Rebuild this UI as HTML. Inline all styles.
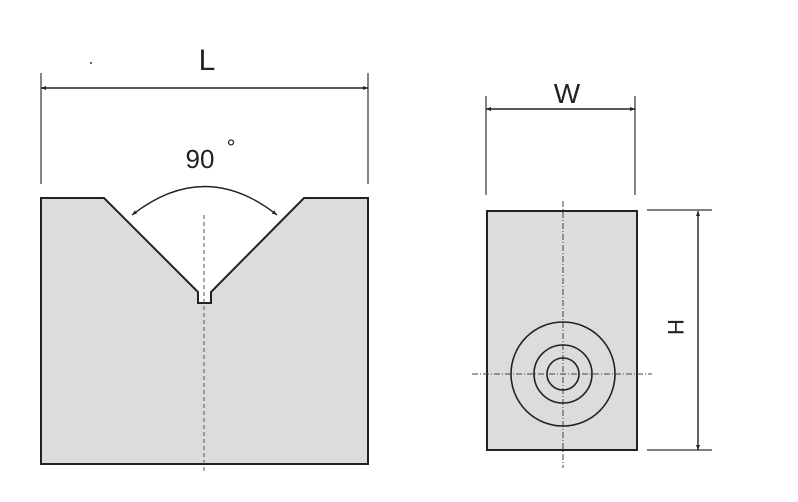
<!DOCTYPE html>
<html><head><meta charset="utf-8"><style>html,body{margin:0;padding:0;background:#fff;}svg{display:block}</style></head>
<body>
<svg width="798" height="502" viewBox="0 0 798 502" xmlns="http://www.w3.org/2000/svg">
<defs>
<marker id="a" viewBox="0 0 10 10" refX="10" refY="5" markerWidth="11" markerHeight="5" orient="auto-start-reverse" markerUnits="userSpaceOnUse"><path d="M0,1 L10,5 L0,9 z" fill="#222"/></marker>
</defs>
<g font-family="'Liberation Sans', Arial, sans-serif" fill="#222">
<path d="M41,198 L104,198 L198,292 L198,303 L211,303 L211,292 L304,198 L368,198 L368,464 L41,464 Z" fill="#dcdcdc" stroke="#222" stroke-width="2"/>
<line x1="204" y1="215" x2="204" y2="474" stroke="#555" stroke-width="1" stroke-dasharray="4,3"/>
<line x1="41" y1="73" x2="41" y2="184" stroke="#333" stroke-width="1.2"/>
<line x1="368" y1="73" x2="368" y2="184" stroke="#333" stroke-width="1.2"/>
<line x1="41" y1="88" x2="368" y2="88" stroke="#222" stroke-width="1.4" marker-start="url(#a)" marker-end="url(#a)"/>
<text x="207" y="70" font-size="30" text-anchor="middle">L</text>
<text x="200" y="168" font-size="26" text-anchor="middle">90</text>
<text x="231" y="155" font-size="22" text-anchor="middle">°</text>
<path d="M132,215 Q205,158 277,215" fill="none" stroke="#222" stroke-width="1.4" marker-start="url(#a)" marker-end="url(#a)"/>
<rect x="487" y="211" width="150" height="239" fill="#dcdcdc" stroke="#222" stroke-width="2"/>
<line x1="563" y1="201" x2="563" y2="468" stroke="#444" stroke-width="1" stroke-dasharray="6,2,1,2"/>
<line x1="472" y1="374" x2="652" y2="374" stroke="#444" stroke-width="1" stroke-dasharray="6,2,1,2"/>
<circle cx="563" cy="374" r="52" fill="none" stroke="#222" stroke-width="1.6"/>
<circle cx="563" cy="374" r="29" fill="none" stroke="#222" stroke-width="1.6"/>
<circle cx="563" cy="374" r="16" fill="none" stroke="#222" stroke-width="1.6"/>
<line x1="486" y1="96" x2="486" y2="195" stroke="#333" stroke-width="1.2"/>
<line x1="635" y1="96" x2="635" y2="195" stroke="#333" stroke-width="1.2"/>
<line x1="486" y1="109" x2="635" y2="109" stroke="#222" stroke-width="1.4" marker-start="url(#a)" marker-end="url(#a)"/>
<text x="567" y="103" font-size="28" text-anchor="middle">W</text>
<line x1="647" y1="210" x2="712" y2="210" stroke="#333" stroke-width="1.2"/>
<line x1="647" y1="450" x2="712" y2="450" stroke="#333" stroke-width="1.2"/>
<line x1="698" y1="211" x2="698" y2="450" stroke="#222" stroke-width="1.4" marker-start="url(#a)" marker-end="url(#a)"/>
<text x="0" y="0" font-size="22" text-anchor="middle" transform="translate(668,327) rotate(90)">H</text>
<circle cx="91" cy="63" r="1" fill="#333"/>
</g>
</svg>
</body></html>
